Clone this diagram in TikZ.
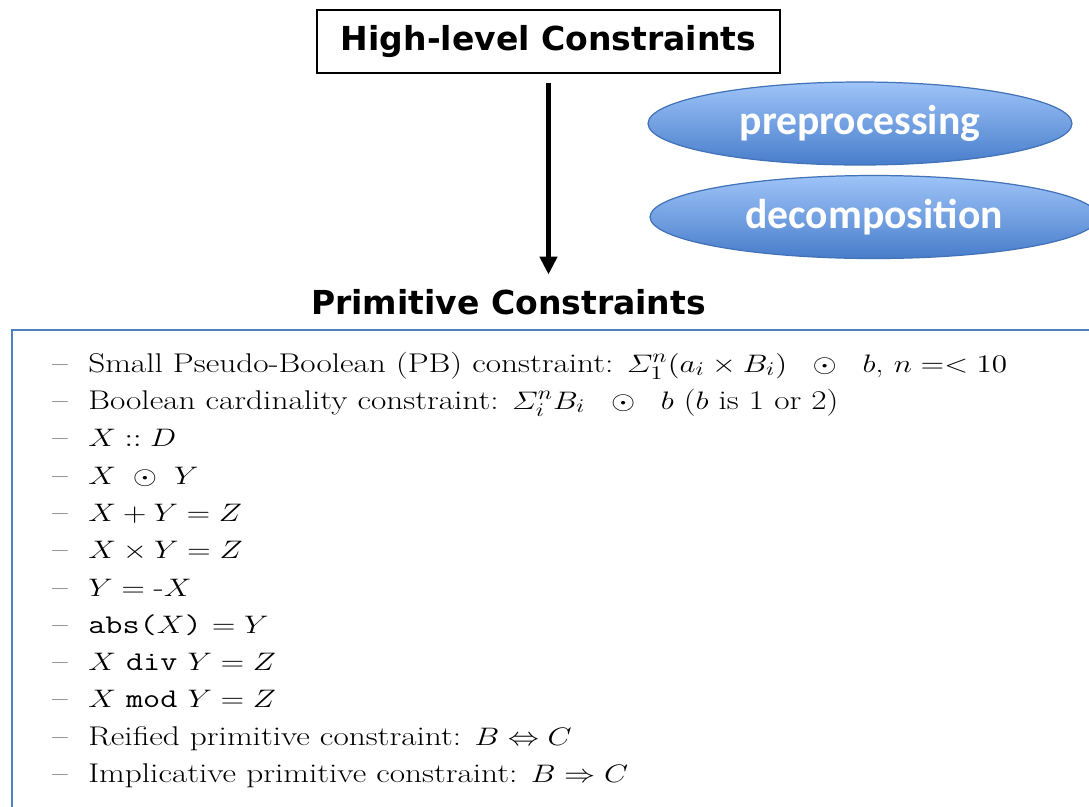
\documentclass[tikz,border=0pt]{standalone}
\usepackage{amsmath}
\usepackage{graphicx}
\usepackage{fontspec}
\usepackage{tikz}
\usetikzlibrary{arrows.meta, positioning, shapes.geometric}
\newfontfamily\headfont{DejaVu Sans}
\newfontfamily\ovalfont{Carlito}
\definecolor{ovaltop}{RGB}{158,196,248}
\definecolor{ovalbot}{RGB}{72,125,203}
\definecolor{ovalline}{RGB}{66,114,184}
\definecolor{framblue}{RGB}{79,129,189}
% one (widened) list line with its dash
\newcommand{\itm}[1]{\scalebox{1.23}[1]{\makebox[1.08em][l]{--}#1}}
\newcommand{\wodot}{\ \odot\ }
\newcommand{\wwodot}{\;\ \odot\ \;}

\begin{document}
\begin{tikzpicture}[
    x=0.02cm, y=-0.02cm,
    headbox/.style={rectangle, draw=black, line width=0.8pt, minimum width=9.26cm,
                minimum height=1.26cm, font=\headfont\fontsize{18.8}{22}\selectfont\bfseries},
    oval/.style={ellipse, draw=ovalline, line width=0.7pt, top color=ovaltop,
                bottom color=ovalbot, minimum height=1.66cm, text=white,
                font=\ovalfont\fontsize{23.7}{27}\selectfont\bfseries},
    title/.style={font=\headfont\fontsize{18.8}{22}\selectfont\bfseries, anchor=base},
    item/.style={anchor=base west, inner sep=0pt, font=\fontsize{15.4}{18}\selectfont},
    arr/.style={-{Triangle[width=0.34cm, length=0.36cm]}, line width=2.8pt},
    frameline/.style={draw=framblue, line width=1.2pt}
  ]
    \clip (0,0) rectangle (1089,806);

    \node[headbox] (high) at (548.5,41.5) {High-level Constraints};
    \node[oval, minimum width=8.48cm] (pre) at (860,123.5) {preprocessing};
    \node[oval, minimum width=8.96cm] (dec) at (874,217)   {decomposition};
    \node[title, inner sep=0pt] (prim) at (508.5,314) {Primitive Constraints};

    \draw[arr, shorten <=0.18cm, shorten >=0.28cm] (high.south) -- (high.south |- prim.north);

    % frame round the list
    \draw[frameline] (12,900) |- (1200,330);

    \node[item] (i1)  at (52,372) {\itm{Small Pseudo-Boolean (PB) constraint: $\varSigma_1^n(a_i\times B_i)\wwodot b$, $n =< 10$}};
    \node[item] (i2)  at (52,409) {\itm{Boolean cardinality constraint: $\varSigma_i^n B_i\wwodot b$ ($b$ is 1 or 2)}};
    \node[item] (i3)  at (52,446) {\itm{$X :: D$}};
    \node[item] (i4)  at (52,484) {\itm{$X\wodot Y$}};
    \node[item] (i5)  at (52,521) {\itm{$X+Y=Z$}};
    \node[item] (i6)  at (52,558) {\itm{$X\times Y=Z$}};
    \node[item] (i7)  at (52,596) {\itm{$Y = \mbox{-}X$}};
    \node[item] (i8)  at (52,633) {\itm{\texttt{abs(}$X$\texttt{)} $= Y$}};
    \node[item] (i9)  at (52,670) {\itm{$X$ \texttt{div} $Y = Z$}};
    \node[item] (i10) at (52,707) {\itm{$X$ \texttt{mod} $Y = Z$}};
    \node[item] (i11) at (52,745) {\itm{Reified primitive constraint: $B \Leftrightarrow C$}};
    \node[item] (i12) at (52,782) {\itm{Implicative primitive constraint: $B \Rightarrow C$}};
  \end{tikzpicture}
\end{document}
